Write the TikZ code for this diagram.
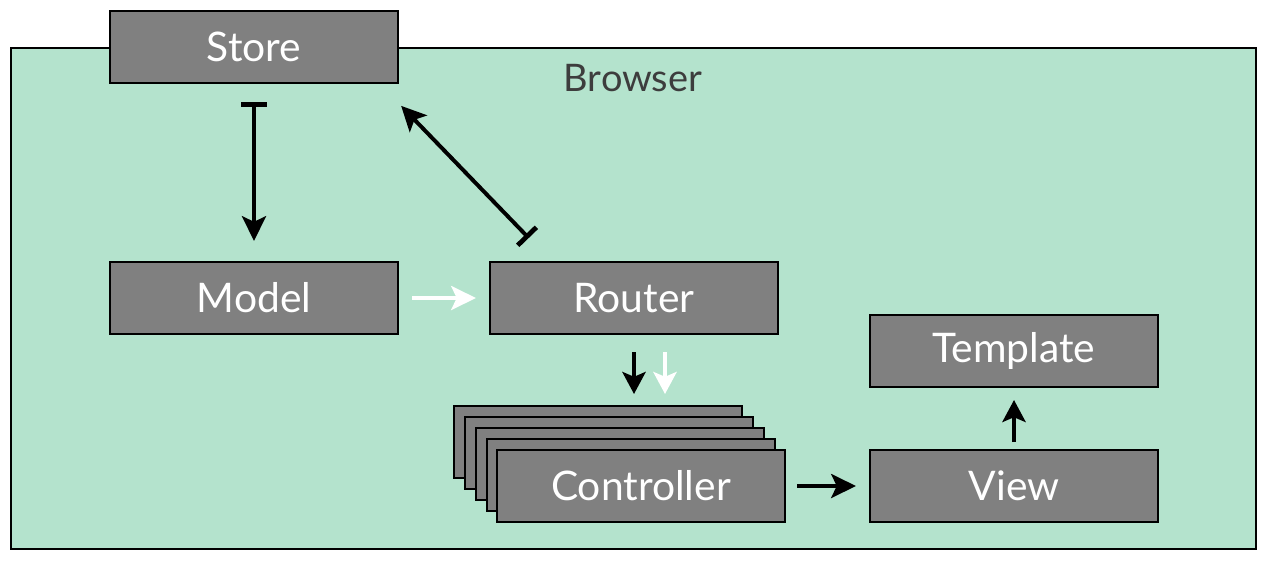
\documentclass[tikz,border=0pt]{standalone}
\usepackage{fontspec}
\setmainfont{Lato}
\usetikzlibrary{arrows.meta,calc}

\definecolor{browsergreen}{RGB}{180,227,205}
\definecolor{boxgray}{RGB}{128,128,128}
\definecolor{labelgray}{RGB}{61,61,61}

\begin{document}
\begin{tikzpicture}[x=0.025cm,y=-0.025cm,
  box/.style={draw=black,line width=1.4pt,fill=boxgray,text=white,
    minimum width=7.2cm,minimum height=1.8cm,inner sep=0pt,
    font=\fontsize{29}{33}\selectfont},
  flow/.style={line width=2.8pt,-{Stealth[length=0.62cm,width=0.6cm,inset=0.14cm]}},
  shortflow/.style={line width=2.8pt,-{Stealth[length=0.55cm,width=0.58cm,inset=0.12cm]}},
  blocked/.style={line width=2.8pt,{Bar[width=0.65cm,line width=3.4pt]}-{Stealth[length=0.62cm,width=0.6cm,inset=0.14cm]}}]
  \useasboundingbox (0,0) rectangle (1267,560);
  \fill[white] (0,0) rectangle (1267,560);
  \draw[line width=1.4pt,fill=browsergreen] (11,48) rectangle (1256,549);
  \node[text=labelgray,font=\fontsize{27}{31}\selectfont] (browser) at (633,78) {Browser};
  % boxes
  \node[box] (store) at (254,47) {Store};
  \node[box] (model) at (254,298) {Model};
  \node[box] (router) at (634,298) {Router};
  \node[box] (template) at (1014,351) {Template};
  \node[box] (view) at (1014,486) {View};
  \foreach \i in {1,...,4}
    \node[box] (ctrl\i) at ({598+11*(\i-1)},{442+11*(\i-1)}) {};
  \node[box] (ctrl) at (641,486) {Controller};
  % connectors
  \draw[blocked,shorten <=0.45cm,shorten >=0.5cm] (store) -- (model);
  \draw[blocked,shorten <=0.8cm,shorten >=0.76cm]
    ($(router.north west)+(62,0)$) -- ($(store.south east)+(-19,0)$);
  \draw[flow,white,shorten <=0.325cm,shorten >=0.325cm] (model) -- (router);
  \draw[shortflow,shorten <=0.425cm,shorten >=0.275cm]
    (router.south) -- (router.south |- ctrl1.north);
  \draw[shortflow,white,shorten <=0.425cm,shorten >=0.275cm]
    ($(router.south)+(31,0)$) -- ($(router.south |- ctrl1.north)+(31,0)$);
  \draw[flow,shorten <=0.275cm,shorten >=0.325cm] (ctrl) -- (view);
  \draw[shortflow,shorten <=0.175cm,shorten >=0.3cm] (view) -- (template);
\end{tikzpicture}
\end{document}
